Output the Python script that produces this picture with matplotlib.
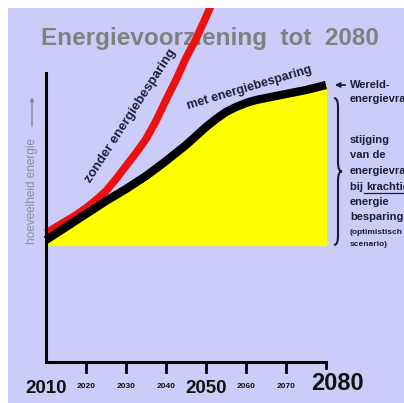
import matplotlib
matplotlib.use("Agg")
import matplotlib.pyplot as plt
from matplotlib.path import Path
from matplotlib.patches import PathPatch

# ---- data (gelezen uit de afbeelding) ----
jaren = [2010, 2015, 2020, 2025, 2030, 2035, 2040, 2045, 2047.5, 2050,
         2052.5, 2055, 2057.5, 2060, 2062.5, 2065, 2070, 2075, 2080]
met_besparing = [122, 135, 148, 161, 173, 186, 201, 217, 226, 235,
                 243, 250, 255, 259, 262, 264, 268, 272, 277]

jaren_zonder = [2010, 2012.5, 2015, 2017.5, 2020, 2022.5, 2025, 2027.5, 2030,
                2032.5, 2035, 2037.5, 2040, 2042.5, 2045, 2047.5, 2050, 2052.5]
zonder_besparing = [129, 135, 141, 147, 154, 162, 171, 183, 196,
                    209, 223, 241, 262, 282, 304, 323, 345, 368]

basis = 117  # onderkant van het gele vlak

grote_ticks = [2010, 2050, 2080]
kleine_ticks = [2020, 2030, 2040, 2060, 2070]

titel = "Energievoorziening  tot  2080"
rechts_tekst = ["stijging", "van de", "energievraag", "bij krachtige", "energie", "besparing"]
rechts_klein = ["(optimistisch", "scenario)"]

lavendel = "#ccccf8"
donker = "#1c1c3c"
plt.rcParams['font.family'] = ['Liberation Sans', 'DejaVu Sans']

fig = plt.figure(figsize=(4.04, 4.03), dpi=100, facecolor="white")
ax = fig.add_axes([8 / 404, 0, 396 / 404, 395 / 403])
ax.set_facecolor(lavendel)
ax.set_xlim(2000.5, 2099.5)
ax.set_ylim(-41, 354)
ax.set_xticks([])
ax.set_yticks([])
for s in ax.spines.values():
    s.set_visible(False)

# geel vlak + lijnen
ax.fill_between(jaren, basis, met_besparing, color="#ffff00", zorder=2)
ax.plot(jaren_zonder, zonder_besparing, color="#ee1010", lw=5.5, zorder=3,
        solid_capstyle="butt", solid_joinstyle="round")
ax.plot(jaren, met_besparing, color="black", lw=6, zorder=4,
        solid_capstyle="butt", solid_joinstyle="round")

# assen
ax.plot([2010, 2010], [0, 289], color="black", lw=2.2, zorder=5)
ax.plot([2010, 2080], [0, 0], color="black", lw=2.2, zorder=5)
for t in kleine_ticks + [2050]:
    ax.plot([t, t], [0, -10], color="black", lw=2, zorder=5)
ax.plot([2080, 2080], [0, -6], color="black", lw=2, zorder=5)

for t in grote_ticks:
    if t == 2080:
        ax.text(t + 2.75, -22, str(t), ha="center", va="center", fontsize=17,
                fontweight="bold", color="#111111")
    else:
        ax.text(t, -26.5, str(t), ha="center", va="center", fontsize=13.5,
                fontweight="bold", color="#111111")
for t in kleine_ticks:
    ax.text(t, -25, str(t), ha="center", va="center", fontsize=6,
            fontweight="bold", color="#111111")

# titel
ax.text(2051, 323, titel, ha="center", va="center", fontsize=17.5,
        fontweight="bold", color="#808080", zorder=1)

# as-label
ax.text(2006.5, 171, "hoeveelheid energie", rotation=90, ha="center",
        va="center", fontsize=8.5, color="#8c8c9c")
ax.annotate("", xy=(2006.5, 268), xytext=(2006.5, 233),
            arrowprops=dict(arrowstyle="-|>", color="#8c8c9c", lw=1,
                            mutation_scale=6))

# curve-labels
ax.text(2031.3, 246, "zonder energiebesparing", rotation=57, ha="center",
        va="center", fontsize=9.5, fontweight="bold", color=donker)
ax.text(2060.8, 274, "met energiebesparing", rotation=16.5, ha="center",
        va="center", fontsize=9, fontweight="bold", color=donker)

# rechts: pijl en tekst
ax.annotate("", xy=(2081.5, 277), xytext=(2085.5, 277),
            arrowprops=dict(arrowstyle="-|>", color=donker, lw=1.3,
                            mutation_scale=7))
ax.text(2086, 277, "Wereld-", ha="left", va="center", fontsize=8,
        fontweight="bold", color=donker)
ax.text(2086, 263, "energievraag", ha="left", va="center", fontsize=8,
        fontweight="bold", color=donker)

y = 222
for regel in rechts_tekst:
    if regel.startswith("bij"):
        t = ax.text(2086, y, "bij ", ha="left", va="center", fontsize=8,
                    fontweight="bold", color=donker)
        ax.annotate("krachtige", xy=(1, 0.5), xycoords=t, ha="left",
                    va="center", fontsize=8, fontweight="bold", color=donker)
        ax.plot([2089.6, 2099.5], [y - 6, y - 6], color=donker, lw=0.9)
    else:
        ax.text(2086, y, regel, ha="left", va="center", fontsize=8,
                fontweight="bold", color=donker)
    y -= 15.5
y = 129
for regel in rechts_klein:
    ax.text(2086, y, regel, ha="left", va="center", fontsize=6,
            fontweight="bold", color=donker)
    y -= 11

# accolade
x0, w, r = 2082, 1.0, 9
top, bot = met_besparing[-1] - 13, basis
mid = (top + bot) / 2
verts = [(x0, top), (x0 + w, top), (x0 + w, top - r),
         (x0 + w, mid + r), (x0 + w, mid), (x0 + 2 * w, mid),
         (x0 + w, mid), (x0 + w, mid - r),
         (x0 + w, bot + r), (x0 + w, bot), (x0, bot)]
codes = [Path.MOVETO, Path.CURVE3, Path.CURVE3, Path.LINETO, Path.CURVE3,
         Path.CURVE3, Path.CURVE3, Path.CURVE3, Path.LINETO, Path.CURVE3,
         Path.CURVE3]
ax.add_patch(PathPatch(Path(verts, codes), fill=False, lw=1.5,
                       edgecolor=donker))

fig.savefig("out.png", dpi=100, facecolor="white")
